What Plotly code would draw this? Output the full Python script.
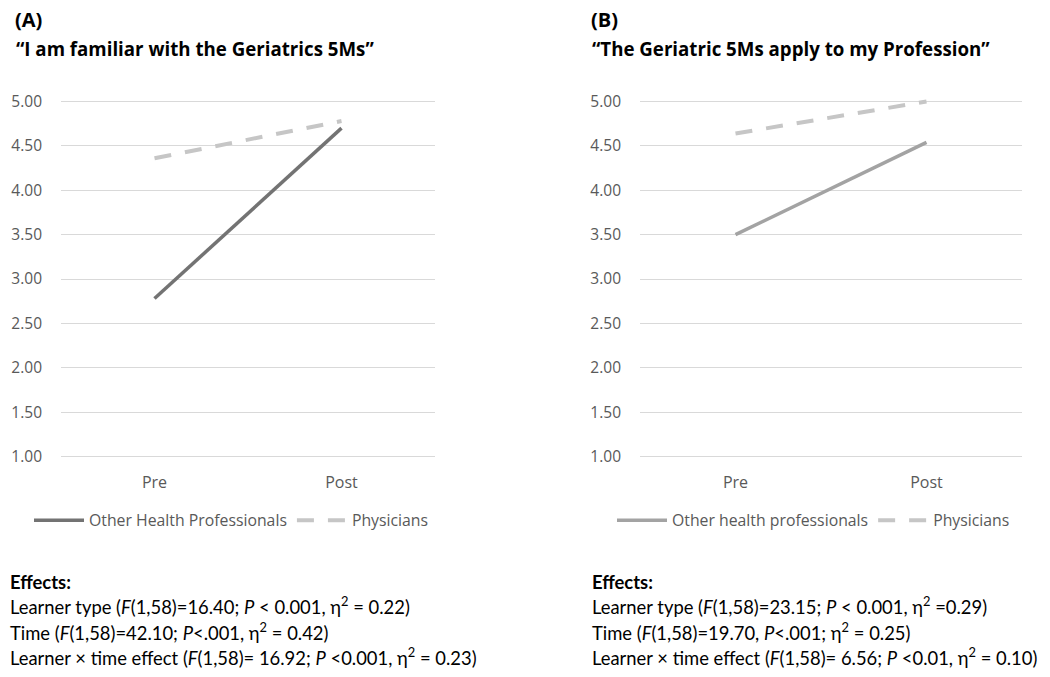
import plotly.graph_objects as go

# page body has an 8px default margin, so the figure is made 16px smaller
OFF = 8
W, H = 1050 - 2 * OFF, 677 - 2 * OFF

time_labels = ["Pre", "Post"]
a_other = [2.78, 4.70]
a_phys = [4.36, 4.78]
b_other = [3.50, 4.54]
b_phys = [4.64, 5.00]
y_ticks = [1.0, 1.5, 2.0, 2.5, 3.0, 3.5, 4.0, 4.5, 5.0]

a_title = ["(A)", "“I am familiar with the Geriatrics 5Ms”"]
b_title = ["(B)", "“The Geriatric 5Ms apply to my Profession”"]
a_effects = [
    "Learner type (<i>F</i>(1,58)=16.40; <i>P</i> < 0.001, η<sup>2</sup> = 0.22)",
    "Time (<i>F</i>(1,58)=42.10; <i>P</i><.001, η<sup>2</sup> = 0.42)",
    "Learner × time effect (<i>F</i>(1,58)= 16.92; <i>P</i> <0.001, η<sup>2</sup> = 0.23)",
]
b_effects = [
    "Learner type (<i>F</i>(1,58)=23.15; <i>P</i> < 0.001, η<sup>2</sup> =0.29)",
    "Time (<i>F</i>(1,58)=19.70, <i>P</i><.001; η<sup>2</sup> = 0.25)",
    "Learner × time effect (<i>F</i>(1,58)= 6.56; <i>P</i> <0.01, η<sup>2</sup> = 0.10)",
]

def px(x):
    return (x - OFF) / W

def py(y):
    return 1 - (y - OFF) / H

# y pixel mapping of the grid: 5.00 and 1.00
top_px, bot_px = 97, 458
upp = (bot_px - top_px) / 4.0
pad = 0.06
ydom = [py(bot_px + pad * upp), py(top_px - pad * upp)]

fig = go.Figure()
fig.add_trace(go.Scatter(x=time_labels, y=a_other, mode="lines", name="Other Health Professionals",
                         line=dict(color="#737373", width=3.5), xaxis="x", yaxis="y", legend="legend"))
fig.add_trace(go.Scatter(x=time_labels, y=a_phys, mode="lines", name="Physicians",
                         line=dict(color="#C6C6C6", width=4, dash="17px,14px"), xaxis="x", yaxis="y", legend="legend"))
fig.add_trace(go.Scatter(x=time_labels, y=b_other, mode="lines", name="Other health professionals",
                         line=dict(color="#A3A3A3", width=3.5), xaxis="x2", yaxis="y2", legend="legend2"))
fig.add_trace(go.Scatter(x=time_labels, y=b_phys, mode="lines", name="Physicians",
                         line=dict(color="#C6C6C6", width=4, dash="17px,14px"), xaxis="x2", yaxis="y2", legend="legend2"))

axfont = dict(family="Open Sans", size=15.5, color="#595959")
xcommon = dict(type="category", range=[-0.5, 1.5], showgrid=False, zeroline=False, showline=False,
               ticks="", tickfont=dict(family="Open Sans", size=16, color="#595959"), ticklabelstandoff=9,
               fixedrange=True)
ycommon = dict(range=[1 - pad, 5 + pad], tickvals=y_ticks, tickformat=".2f", showgrid=True,
               gridcolor="#D9D9D9", gridwidth=1.3, zeroline=False, showline=False, ticks="",
               tickfont=axfont, ticklabelstandoff=18, domain=ydom, fixedrange=True)

legcommon = dict(orientation="h", yanchor="middle", xanchor="left", y=py(523),
                 font=dict(family="Open Sans", size=15.8, color="#595959"),
                 bgcolor="rgba(0,0,0,0)", itemwidth=50, tracegroupgap=0)

fig.update_layout(
    width=W, height=H, margin=dict(l=0, r=0, t=0, b=0),
    paper_bgcolor="white", plot_bgcolor="white",
    xaxis=dict(domain=[px(61), px(435)], anchor="y", **xcommon),
    yaxis=dict(anchor="x", **ycommon),
    xaxis2=dict(domain=[px(640), px(1022)], anchor="y2", **xcommon),
    yaxis2=dict(anchor="x2", **ycommon),
    legend=dict(x=px(29), **legcommon),
    legend2=dict(x=px(612), **legcommon),
    showlegend=True,
)

anns = []
for x0, title in ((14, a_title), (590, b_title)):
    anns.append(dict(text="<b>" + title[0] + "</b>", x=px(x0), y=py(14), xref="paper", yref="paper",
                     xanchor="left", yanchor="middle", showarrow=False, borderpad=0,
                     font=dict(family="Open Sans", size=20, color="black")))
    anns.append(dict(text="<b>" + title[1] + "</b>", x=px(x0), y=py(43), xref="paper", yref="paper",
                     xanchor="left", yanchor="middle", showarrow=False,
                     font=dict(family="Open Sans", size=18.7, color="black")))

for x0, eff in ((8, a_effects), (590, b_effects)):
    anns.append(dict(text="<b>Effects:</b>", x=px(x0), y=py(586), xref="paper", yref="paper",
                     xanchor="left", yanchor="middle", showarrow=False,
                     font=dict(family="Lato", size=18.4, color="black")))
    for i, line in enumerate(eff):
        anns.append(dict(text=line, x=px(x0), y=py(610 + 25.5 * i), xref="paper", yref="paper",
                         xanchor="left", yanchor="middle", showarrow=False,
                         font=dict(family="Lato", size=18.4, color="black")))

fig.update_layout(annotations=anns)
fig.write_html("out.html")
